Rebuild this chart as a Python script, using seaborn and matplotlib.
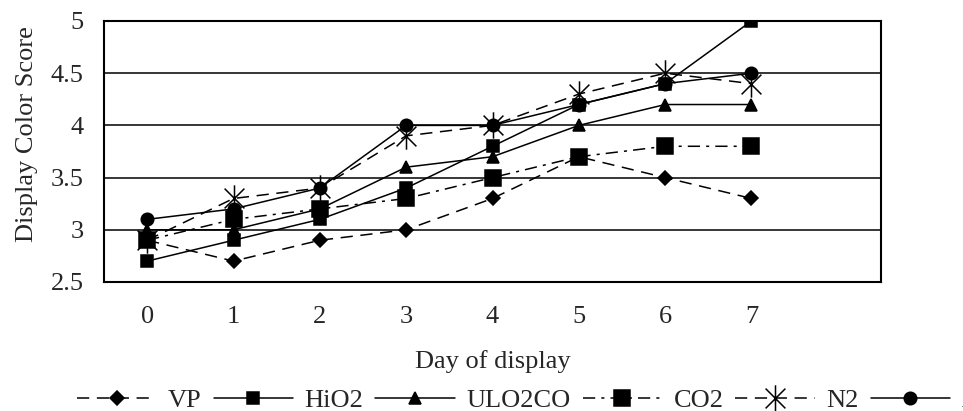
import matplotlib.pyplot as plt
import numpy as np
import pandas as pd
import seaborn as sns
from matplotlib.path import Path

days = [0, 1, 2, 3, 4, 5, 6, 7]
vp = [2.9, 2.7, 2.9, 3.0, 3.3, 3.7, 3.5, 3.3]
hio2 = [2.7, 2.9, 3.1, 3.4, 3.8, 4.2, 4.4, 5.0]
ulo2co = [3.0, 3.0, 3.2, 3.6, 3.7, 4.0, 4.2, 4.2]
co2 = [2.9, 3.1, 3.2, 3.3, 3.5, 3.7, 3.8, 3.8]
n2 = [2.9, 3.3, 3.4, 3.9, 4.0, 4.3, 4.5, 4.4]
air = [3.1, 3.2, 3.4, 4.0, 4.0, 4.2, 4.4, 4.5]
y_ticks = [2.5, 3, 3.5, 4, 4.5, 5]

sns.set_style("white")
plt.rcParams["font.family"] = ["Liberation Serif", "DejaVu Serif"]
fs = 19

# asterisk like the excel one: vertical bar plus an x
star = Path(
    [(0, -1), (0, 1), (-0.75, -0.75), (0.75, 0.75), (-0.75, 0.75), (0.75, -0.75)],
    [Path.MOVETO, Path.LINETO, Path.MOVETO, Path.LINETO, Path.MOVETO, Path.LINETO],
)

dash = (0, (8, 5))
dashdot = (0, (8, 4, 2, 4))

series = [
    ("VP", vp, dash, "D", 7),
    ("HiO2", hio2, "-", "s", 9),
    ("ULO2CO", ulo2co, "-", "^", 9),
    ("CO2", co2, dashdot, "s", 11),
    ("N2", n2, dash, star, 19),
    ("Air", air, "-", "o", 9),
]

fig = plt.figure(figsize=(9.63, 4.11), dpi=100)
ax = fig.add_axes([104 / 963, 1 - 282 / 411, 777 / 963, 261 / 411])

for nome, vals, ls, mk, ms in series:
    df = pd.DataFrame({"day": days, "score": vals})
    sns.lineplot(data=df, x="day", y="score", ax=ax, color="black", linestyle=ls,
                 linewidth=1.1, marker=mk, markersize=ms, markeredgecolor="black",
                 markerfacecolor="black", markeredgewidth=1.1, label=nome)

ax.set_ylim(2.5, 5)
ax.set_yticks(y_ticks)
ax.set_yticklabels(["2.5", "3", "3.5", "4", "4.5", "5"])
ax.set_xlim(-0.5, 8.5)
ax.set_xticks(np.arange(-0.5, 9, 1))
ax.set_xticklabels([])
ax.set_xticks(days, minor=True)
ax.set_xticklabels([str(d) for d in days], minor=True)
ax.tick_params(axis="x", which="major", direction="out", length=5, width=1.3, color="black")
ax.tick_params(axis="x", which="minor", length=0, pad=17, labelsize=fs)
ax.tick_params(axis="y", direction="out", length=5, width=1.3, color="black", pad=9.5, labelsize=fs)
ax.grid(axis="y", color="black", linewidth=1.1)
for s in ax.spines.values():
    s.set_color("black")
    s.set_linewidth(1.5)

ax.set_ylabel("Display Color Score", fontsize=fs, va="center")
ax.yaxis.set_label_coords(-0.099, 0.567)
ax.set_xlabel("Day of display", fontsize=fs)
ax.xaxis.set_label_coords(0.5, -0.262)

ax.get_legend().remove()
h, l = ax.get_legend_handles_labels()
fig.legend(h, l, loc="center left", bbox_to_anchor=(77 / 963, 1 - 400 / 411), ncol=6,
           frameon=False, fontsize=fs, handlelength=3.0, handletextpad=0.45,
           columnspacing=0.45, borderpad=0, borderaxespad=0)

plt.savefig("out.png", dpi=100)
